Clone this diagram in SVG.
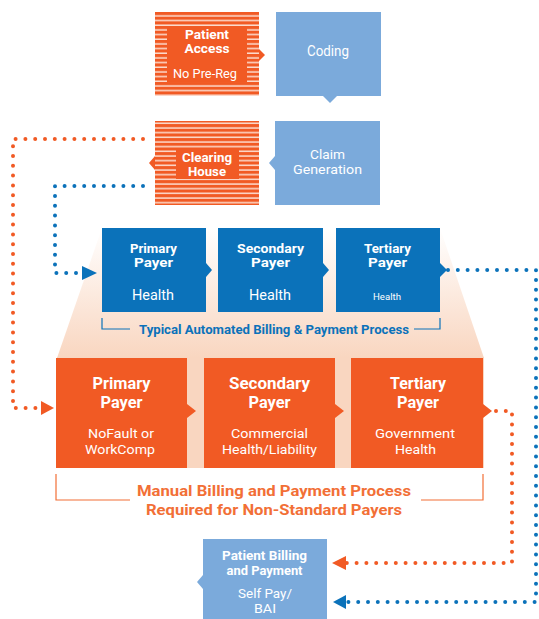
<svg xmlns="http://www.w3.org/2000/svg" width="539" height="619" viewBox="0 0 539 619">
<defs>
<style>
.or{fill:#F15A24}
.lb{fill:#7BAADB}
.db{fill:#0B72BA}
.t{font-family:Roboto,"Liberation Sans",sans-serif;fill:#fff;text-anchor:middle}
.b{font-weight:bold}
.dotO{fill:none;stroke:#F15A24;stroke-width:4;stroke-linecap:round;stroke-dasharray:0 9.8}
.dotB{fill:none;stroke:#0B72BA;stroke-width:4;stroke-linecap:round;stroke-dasharray:0 9.8}
.brB{fill:none;stroke:#0B72BA;stroke-width:1.2}
.brO{fill:none;stroke:#F26F36;stroke-width:1.2}
</style>
<linearGradient id="peach" x1="0" y1="0" x2="0" y2="1">
<stop offset="0" stop-color="#FFFFFF"/>
<stop offset="1" stop-color="#F9D6C0"/>
</linearGradient>
<pattern id="stripes" x="0" y="12" width="10" height="4.67" patternUnits="userSpaceOnUse">
<rect width="10" height="4.67" fill="#F15A24"/>
<rect y="3.2" width="10" height="1.4" fill="#FDE6DC"/>
</pattern>
</defs>

<polygon points="102,228 440,228 484,358 57,358" fill="url(#peach)"/>
<rect x="57" y="357" width="427" height="111" fill="#F9D6C0"/>

<g id="connectors">
<polyline class="dotO" points="143,139 13,139 13,408 42,408"/>
<polygon class="or" points="41,401 54,408 41,415"/>
<polyline class="dotB" points="143,186 55,186 55,273 82,273"/>
<polygon class="db" points="82,266 97,273 82,280"/>
<polyline class="dotB" points="448,270 536,270 536,602 346,602"/>
<polygon class="db" points="346,595 333,602 346,609"/>
<polyline class="dotO" points="496,411 512,411 512,563 346,563"/>
<polygon class="or" points="346,556 332,563 346,570"/>
</g>

<g id="patient-access">
<rect x="155" y="12" width="104" height="84" fill="url(#stripes)"/>
<rect x="167" y="27" width="80" height="55" class="or"/>
<polygon class="or" points="259,49 265,55 259,61"/>
<text class="t b" x="207" y="38.5" font-size="12.5" textLength="44" lengthAdjust="spacingAndGlyphs">Patient</text>
<text class="t b" x="207" y="52.5" font-size="12.5" textLength="45" lengthAdjust="spacingAndGlyphs">Access</text>
<text class="t" x="205" y="77.5" font-size="12.5" textLength="64" lengthAdjust="spacingAndGlyphs">No Pre-Reg</text>
</g>

<g id="coding">
<rect x="276" y="12" width="105" height="84" class="lb"/>
<polygon class="lb" points="323,96 337,96 330,103"/>
<text class="t" x="328" y="56" font-size="14" textLength="42" lengthAdjust="spacingAndGlyphs">Coding</text>
</g>

<g id="clearing-house">
<rect x="155" y="121" width="104" height="84" fill="url(#stripes)"/>
<rect x="176" y="148" width="63" height="31" class="or"/>
<polygon class="or" points="155,156 149,163 155,170"/>
<text class="t b" x="207" y="161.5" font-size="12.5" textLength="50" lengthAdjust="spacingAndGlyphs">Clearing</text>
<text class="t b" x="207" y="175.5" font-size="12.5" textLength="38" lengthAdjust="spacingAndGlyphs">House</text>
</g>

<g id="claim-generation">
<rect x="275" y="121" width="105" height="84" class="lb"/>
<polygon class="lb" points="275,156 269,163 275,170"/>
<text class="t" x="327.5" y="158.5" font-size="13" textLength="35" lengthAdjust="spacingAndGlyphs">Claim</text>
<text class="t" x="327.5" y="173.5" font-size="13" textLength="69" lengthAdjust="spacingAndGlyphs">Generation</text>
</g>

<g id="blue-primary">
<rect x="102" y="228" width="104" height="84" class="db"/>
<polygon class="db" points="206,263 212,270 206,277"/>
<text class="t b" x="153.5" y="252.5" font-size="12.5" textLength="47" lengthAdjust="spacingAndGlyphs">Primary</text>
<text class="t b" x="153.5" y="266.5" font-size="12.5" textLength="39" lengthAdjust="spacingAndGlyphs">Payer</text>
<text class="t" x="153" y="300" font-size="14.5" textLength="42" lengthAdjust="spacingAndGlyphs">Health</text>
</g>

<g id="blue-secondary">
<rect x="218" y="228" width="105" height="84" class="db"/>
<polygon class="db" points="323,263 329,270 323,277"/>
<text class="t b" x="270.5" y="252.5" font-size="12.5" textLength="67" lengthAdjust="spacingAndGlyphs">Secondary</text>
<text class="t b" x="270.5" y="266.5" font-size="12.5" textLength="39" lengthAdjust="spacingAndGlyphs">Payer</text>
<text class="t" x="270" y="300" font-size="14.5" textLength="42" lengthAdjust="spacingAndGlyphs">Health</text>
</g>

<g id="blue-tertiary">
<rect x="336" y="228" width="104" height="84" class="db"/>
<polygon class="db" points="440,263 447,270 440,277"/>
<text class="t b" x="387.5" y="252.5" font-size="12.5" textLength="47" lengthAdjust="spacingAndGlyphs">Tertiary</text>
<text class="t b" x="387.5" y="266.5" font-size="12.5" textLength="39" lengthAdjust="spacingAndGlyphs">Payer</text>
<text class="t" x="387" y="300" font-size="9" textLength="28" lengthAdjust="spacingAndGlyphs">Health</text>
</g>

<g id="automated-label">
<polyline class="brB" points="102,318 102,329 130,329"/>
<polyline class="brB" points="414,329 440,329 440,318"/>
<text x="274" y="333.5" font-family="Roboto,'Liberation Sans',sans-serif" font-weight="bold" font-size="12.5" fill="#0B72BA" text-anchor="middle" textLength="270" lengthAdjust="spacingAndGlyphs">Typical Automated Billing &amp; Payment Process</text>
</g>

<g id="orange-primary">
<rect x="56" y="358" width="131" height="110" class="or"/>
<polygon class="or" points="187,404 196,411 187,418"/>
<text class="t b" x="121.5" y="388.5" font-size="16" textLength="58" lengthAdjust="spacingAndGlyphs">Primary</text>
<text class="t b" x="121.5" y="407.5" font-size="16" textLength="42" lengthAdjust="spacingAndGlyphs">Payer</text>
<text class="t" x="121" y="438" font-size="13" textLength="66" lengthAdjust="spacingAndGlyphs">NoFault or</text>
<text class="t" x="120" y="453.5" font-size="13" textLength="70" lengthAdjust="spacingAndGlyphs">WorkComp</text>
</g>

<g id="orange-secondary">
<rect x="204" y="358" width="131" height="110" class="or"/>
<polygon class="or" points="335,404 344,411 335,418"/>
<text class="t b" x="269.5" y="388.5" font-size="16" textLength="81" lengthAdjust="spacingAndGlyphs">Secondary</text>
<text class="t b" x="269.5" y="407.5" font-size="16" textLength="42" lengthAdjust="spacingAndGlyphs">Payer</text>
<text class="t" x="269.5" y="438" font-size="13" textLength="77" lengthAdjust="spacingAndGlyphs">Commercial</text>
<text class="t" x="269.5" y="453.5" font-size="13" textLength="95" lengthAdjust="spacingAndGlyphs">Health/Liability</text>
</g>

<g id="orange-tertiary">
<rect x="351" y="358" width="132" height="110" class="or"/>
<polygon class="or" points="483,404 492,411 483,418"/>
<text class="t b" x="418" y="388.5" font-size="16" textLength="56" lengthAdjust="spacingAndGlyphs">Tertiary</text>
<text class="t b" x="418" y="407.5" font-size="16" textLength="42" lengthAdjust="spacingAndGlyphs">Payer</text>
<text class="t" x="415" y="438" font-size="13" textLength="80" lengthAdjust="spacingAndGlyphs">Government</text>
<text class="t" x="415.5" y="453.5" font-size="13" textLength="41" lengthAdjust="spacingAndGlyphs">Health</text>
</g>

<g id="manual-label">
<polyline class="brO" points="56,474 56,500 130,500"/>
<polyline class="brO" points="421,500 483,500 483,474"/>
<text x="274" y="496" font-family="Roboto,'Liberation Sans',sans-serif" font-weight="bold" font-size="15" fill="#F26F36" text-anchor="middle" textLength="274" lengthAdjust="spacingAndGlyphs">Manual Billing and Payment Process</text>
<text x="274" y="515" font-family="Roboto,'Liberation Sans',sans-serif" font-weight="bold" font-size="15" fill="#F26F36" text-anchor="middle" textLength="256" lengthAdjust="spacingAndGlyphs">Required for Non-Standard Payers</text>
</g>

<g id="patient-billing">
<rect x="203" y="539" width="124" height="82" class="lb"/>
<polygon class="lb" points="203,575 197,582 203,589"/>
<text class="t b" x="264.5" y="559.5" font-size="12.5" textLength="85" lengthAdjust="spacingAndGlyphs">Patient Billing</text>
<text class="t b" x="264.5" y="574.5" font-size="12.5" textLength="76" lengthAdjust="spacingAndGlyphs">and Payment</text>
<text class="t" x="265" y="597.5" font-size="13.5" textLength="54" lengthAdjust="spacingAndGlyphs">Self Pay/</text>
<text class="t" x="265" y="612.5" font-size="13.5" textLength="22" lengthAdjust="spacingAndGlyphs">BAI</text>
</g>
</svg>
